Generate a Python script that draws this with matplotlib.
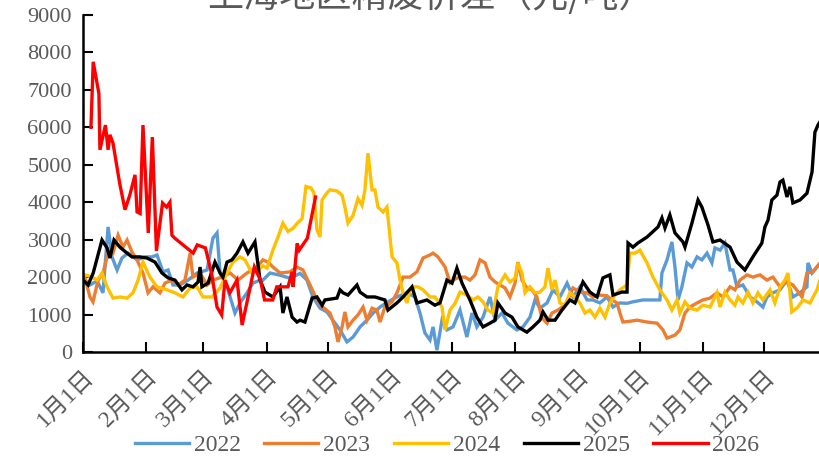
import matplotlib
matplotlib.use("Agg")
import matplotlib.pyplot as plt

plt.rcParams["font.family"] = ["Liberation Serif", "Noto Sans CJK SC"]

title = "上海地区精废价差（元/吨）"
month_starts = [0, 31, 59, 90, 120, 151, 181, 212, 243, 273, 304, 334]
month_labels = ["%d月1日" % m for m in range(1, 13)]
years = ["2022", "2023", "2024", "2025", "2026"]
colors = ["#5B9BD5", "#ED7D31", "#FFC000", "#000000", "#FF0000"]

# day of year, value (yuan/ton)
day_2022 = [1, 3.4, 6.9, 9.8, 12.3, 14.2, 16.7, 19.1, 22.1, 26.5, 30.4, 33.8, 36.3, 39.2, 41.7,
            44.1, 47.5, 51.5, 55.9, 60.8, 63.7, 65.7, 67.2, 70.6, 73, 74.5, 77, 80.4, 83.3, 86.8,
            88.2, 91.7, 96.6, 101.5, 106.4, 109.8, 112.7, 116.2, 119.6, 122.5, 126, 129.4, 132.4,
            135.8, 139.2, 142.2, 145.6, 149.5, 153.9, 158.8, 162.7, 165.2, 167.6, 170.1, 171.6,
            173.5, 176, 178.4, 181.4, 184.8, 188.2, 190.7, 193.1, 196.1, 199.5, 202, 205.4, 208.3,
            212.7, 215.7, 219.1, 221.6, 224, 227.5, 230.4, 233.8, 237.3, 240.2, 243.6, 247.1, 250,
            253.4, 256.9, 259.8, 263.2, 266.7, 269.6, 274.5, 278.9, 282.8, 283.8, 286.3, 288.7,
            290.2, 291.7, 293.6, 296.1, 298.5, 301, 303.4, 305.9, 308.3, 309.8, 312.3, 314.7, 317.2,
            318.6, 320.6, 323.5, 327, 330.4, 333.3, 335.3, 338.2, 341.7, 345.1, 348, 351.5, 354.9,
            355.4, 357.4, 359.8]
val_2022 = [1920, 1790, 1900, 1580, 3340, 2540, 2190, 2510, 2640, 2460, 2540, 2540, 2590, 2140, 2190,
            1790, 1790, 1920, 2110, 2190, 3040, 3180, 2110, 1740, 1310, 1040, 1310, 1580, 1840, 1920,
            1920, 2110, 2050, 1970, 2100, 1920, 1470, 1170, 1070, 850, 590, 270, 400,
            670, 850, 1040, 1200, 1340, 1470, 1580, 1470, 1040, 510, 320, 670,
            50, 850, 590, 670, 1120, 400, 1040, 670, 930, 1470, 850, 1040, 770,
            590, 670, 930, 1390, 1170, 1310, 1660, 1470, 1840, 1470, 1740, 1390, 1390,
            1310, 1470, 1200, 1310, 1300, 1340, 1390, 1390, 1390, 2110, 2460, 2940,
            2270, 1390, 1740, 2380, 2270, 2540, 2460, 2640, 2380, 2780, 2720, 2910, 2190,
            2190, 1740, 1790, 1470, 1340, 1200, 1470, 1580, 1660, 1920, 1470, 1580, 1740,
            2380, 2110, 2270]

day_2023 = [1, 3.4, 4.9, 7.4, 9.8, 12.3, 14.7, 17.2, 19.6, 21.6, 24, 26.5, 29.4, 31.9, 34.3, 37.7,
            40.2, 43.6, 46.6, 50, 52.5, 53.9, 57.4, 60.8, 63.7, 68.1, 72.1, 76, 80.4, 85.3, 88.2,
            90.7, 93.1, 96.6, 101.5, 104.9, 107.8, 111.3, 114.7, 117.6, 121.1, 123.5, 125, 127,
            128.4, 129.9, 132.4, 134.8, 137.3, 139.2, 141.7, 144.1, 145.6, 148, 151.5, 153.9,
            156.9, 160.3, 163.7, 166.7, 170.1, 171.6, 174, 177.5, 179.9, 182.4, 184.8, 187.3,
            189.7, 192.2, 194.6, 197.1, 199.5, 202, 204.4, 206.9, 209.3, 211.8, 213.2, 215.2,
            217.6, 220.1, 222.5, 225, 227.5, 229.9, 232.8, 236.3, 238.7, 240.2, 243.6, 247.1, 250,
            253.4, 256.9, 259.3, 261.8, 263.2, 264.7, 268.1, 271.6, 276.5, 281.4, 284.3, 286.3,
            290.2, 292.6, 295.1, 297.5, 301, 303.9, 307.4, 310.8, 313.7, 317.2, 319.6, 322.1,
            325.5, 328.4, 331.9, 335.3, 338.2, 341.7, 345.1, 348, 352.5, 354.9, 357.8, 361.3]
val_2023 = [1970, 1470, 1340, 1920, 2110, 2640, 2640, 3120, 2800, 2990, 2670, 2460, 2110, 1580, 1740, 1580,
            1840, 1920, 1790, 1920, 2640, 2000, 2110, 1790, 1920, 2000, 2110, 1920, 2110, 2270, 2460,
            2400, 2270, 2110, 2140, 2270, 2190, 1790, 1390, 1200, 1040, 670, 270, 670,
            1070, 670, 850, 990, 1200, 850, 1170, 1120, 800, 1200, 1340, 1580,
            2000, 2000, 2140, 2510, 2590, 2640, 2540, 2270, 1850, 1950, 2000, 2000,
            1920, 2060, 2460, 2380, 2000, 1870, 1790, 1710, 1470, 1840, 2400, 1920,
            1710, 1660, 1470, 910, 770, 1040, 1120, 1250, 1520, 1710, 1600, 1580, 1470,
            1520, 1500, 1390, 1310, 1040, 800, 820, 850, 800, 770, 590, 370,
            450, 590, 1040, 1200, 1310, 1390, 1440, 1580, 1470, 1740, 1660, 1920,
            2060, 2000, 2060, 1920, 2000, 1740, 1870, 1790, 1470, 2110, 2140, 2380]

day_2024 = [1, 4.4, 6.9, 9.3, 11.8, 14.7, 18.1, 21.6, 24.5, 27, 29.4, 32.8, 36.3, 41.2, 45.1, 49,
            52.5, 55.9, 58.8, 63.2, 67.2, 70.6, 73.5, 77, 79.4, 82.8, 85.8, 88.2, 90.2, 93.1, 95.6,
            98, 100.5, 102.9, 105.4, 107.4, 109.3, 111.8, 113.2, 114.7, 116.2, 117.2, 119.6, 121.1,
            124.5, 127, 128.4, 129.9, 132.4, 134.8, 136.8, 138.2, 139.7, 141.7, 143.1, 144.6,
            147.1, 149, 151.5, 153.9, 155.4, 156.9, 158.8, 160.3, 162.7, 164.2, 166.7, 170.1,
            172.5, 176, 177.5, 179.9, 182.4, 184.8, 188.2, 191.2, 193.6, 196.1, 198.5, 201, 203.4,
            206.9, 209.3, 211.8, 213.2, 215.2, 216.7, 219.1, 221.6, 224, 226.5, 227.9, 229.9,
            231.4, 233.8, 236.3, 238.7, 241.2, 243.6, 246.1, 248.5, 251, 253.4, 255.9, 258.3,
            260.8, 263.2, 266.7, 268.1, 270.6, 273, 276.5, 279.4, 282.8, 286.3, 288.7, 291.2,
            292.6, 295.1, 297.5, 301, 303.9, 307.4, 310.8, 312.3, 314.7, 317.2, 319.6, 321.1,
            323.5, 326, 328.4, 330.9, 333.3, 336.8, 339.2, 341.7, 344.1, 345.6, 347.5, 350.5,
            352.9, 356.4, 359.8, 361.3]
val_2024 = [2060, 2000, 1920, 2110, 1740, 1440, 1470, 1440, 1580, 1920, 2400, 2000, 1740, 1660, 1580, 1470,
            1710, 1740, 1470, 1470, 1710, 2110, 2400, 2540, 2460, 2110, 2190, 2300, 2240, 2720, 3070,
            3440, 3220, 3300, 3460, 3560, 4420, 4380, 4250, 3260, 3070, 4060, 4250, 4330,
            4300, 4190, 3870, 3440, 3650, 4100, 3920, 4330, 5310, 4330, 4330, 3870,
            3740, 3870, 2540, 2380, 1920, 1580, 1310, 1660, 1740, 1740, 1660, 1470,
            1470, 1200, 590, 1120, 1300, 1600, 1520, 1390, 1470, 1340, 1120, 1040, 1740,
            2060, 1870, 1970, 2380, 2110, 1580, 1740, 1580, 1600, 1740, 2240, 1660,
            1920, 1310, 1250, 1580, 1470, 1310, 1040, 1120, 930, 1170, 930, 1310,
            1520, 1660, 1790, 2640, 2640, 2720, 2380, 2000, 1660, 1390, 1120, 1390,
            1040, 1340, 1170, 1120, 1250, 1200, 1580, 1200, 1600, 1390, 1250, 1470,
            1310, 1600, 1310, 1580, 1390, 1660, 1310, 1740, 1920, 2110, 1070, 1200,
            1390, 1310, 1660, 1920]

day_2025 = [1, 2.5, 5, 9.3, 11.8, 13.2, 15.2, 18.1, 21.6, 24, 27.9, 31.4, 35.3, 38.7, 41.7, 45.1,
            48.5, 51, 53.9, 56.4, 57.4, 58.3, 61.3, 64.7, 67.2, 68.6, 70.6, 73, 75.5, 78.4, 80.9,
            84.3, 86.8, 89.2, 93.1, 96.6, 98, 100, 102.5, 104.9, 106.4, 108.8, 112.3, 114.7, 117.2,
            118.6, 124.5, 126, 127.5, 129.9, 134.3, 135.8, 139.2, 143.1, 148, 149.5, 153.9, 156.9,
            161.3, 163.7, 168.6, 172.5, 175, 178.4, 180.9, 183.3, 185.8, 189.7, 193.1, 196.1,
            199.5, 202, 203.4, 206.9, 210.3, 213.2, 217.6, 220.6, 224, 225.5, 228, 231.4, 234.8,
            238.7, 241.2, 245.1, 248.5, 252, 254.9, 258.3, 259.8, 264.2, 266.7, 267.2, 269.6, 272,
            276.5, 281.9, 283.8, 285.3, 287.7, 290.2, 294.1, 295.1, 298.5, 301.5, 303.4, 306.4,
            308.8, 312.3, 317.2, 320.6, 324.5, 328.4, 332.8, 334.3, 335.8, 337.7, 340.2, 341.7,
            343.1, 345.1, 346.6, 348, 351.5, 354.9, 357.4, 358.8, 360.3, 361.3]
val_2025 = [1870, 1790, 2110, 2990, 2780, 2510, 2990, 2800, 2640, 2540, 2540, 2510, 2400, 2110, 1980, 1920,
            1660, 1790, 1740, 1870, 2270, 1740, 1840, 2400, 2110, 2000, 2400, 2460, 2640, 2940, 2640,
            2940, 1920, 1600, 1470, 1740, 1040, 1470, 930, 800, 850, 800, 1440, 1470, 1250,
            1390, 1440, 1660, 1580, 1520, 1790, 1600, 1470, 1470, 1390, 1120, 1310, 1470,
            1740, 1310, 1390, 1250, 1310, 1920, 1840, 2240, 1840, 1390, 930, 670,
            770, 850, 1310, 1040, 930, 670, 530, 670, 850, 1070, 850, 850, 1120,
            1390, 1310, 1870, 1600, 1470, 1980, 2060, 1520, 1600, 1600, 2910, 2800, 2910,
            3070, 3340, 3580, 3310, 3660, 3180, 2940, 2800, 3440, 4060, 3870, 3390,
            2940, 2990, 2800, 2400, 2190, 2540, 2910, 3340, 3520, 4060, 4190, 4540,
            4590, 4140, 4410, 3980, 4060, 4240, 4810, 5870, 6060, 6150]

day_2026 = [3.9, 5, 7.8, 8.3, 11, 12.3, 13.2, 14.7, 18, 20.6, 23, 25.5, 26.5, 28, 29.4, 32, 34,
            36, 39, 41, 42.6, 43.6, 45, 54, 56, 60, 63, 65.7, 68, 69.6, 72, 75.5, 78, 82, 84, 87,
            89, 93, 95, 98, 100.5, 102.5, 103, 105, 106, 110, 114]
val_2026 = [6000, 7750, 6900, 5400, 6060, 5400, 5800, 5580, 4500, 3800, 4200, 4730, 3740, 3700, 6060,
            3180, 5740, 2700, 3980, 3870, 4000, 3120, 3040, 2640, 2860, 2780, 2110, 1200, 990, 1920,
            1580, 1920, 720, 1740, 2270, 1920, 1390, 1390, 1740, 1740, 1740, 2140, 1740, 2900, 2720,
            3040, 4140]

days = [day_2022, day_2023, day_2024, day_2025, day_2026]
vals = [val_2022, val_2023, val_2024, val_2025, val_2026]

fig = plt.figure(figsize=(8.2, 4.58), dpi=100)
ax = fig.add_axes([83 / 820, 106 / 458, 737 / 820, 337 / 458])

for yr, d, v, c in zip(years, days, vals, colors):
    ax.plot(d, v, "-", color=c, lw=2.4, label=yr, solid_joinstyle="miter")

ax.set_xlim(0, 361.3)
ax.set_ylim(0, 9000)
ax.set_yticks(range(0, 9001, 1000))
ax.set_xticks(month_starts)
ax.set_xticklabels(month_labels, rotation=45, ha="right", va="top",
                   rotation_mode="anchor")

for side in ["top", "right"]:
    ax.spines[side].set_visible(False)
for side in ["left", "bottom"]:
    ax.spines[side].set_linewidth(1.8)
ax.tick_params(direction="in", length=7, width=1.5, labelsize=16,
               labelcolor="#595959", pad=8)
ax.tick_params(axis="x", pad=10, labelsize=17)

fig.text(0.525, 0.985, title, ha="center", va="baseline", fontsize=26,
         color="#595959", family=["Noto Sans CJK SC"])

fig.legend(loc="center", bbox_to_anchor=(0.545, 0.028), ncol=5, frameon=False,
           fontsize=17, labelcolor="#595959", handlelength=2.3,
           handletextpad=0.2, columnspacing=1.0)

fig.savefig("out.png", dpi=100)
